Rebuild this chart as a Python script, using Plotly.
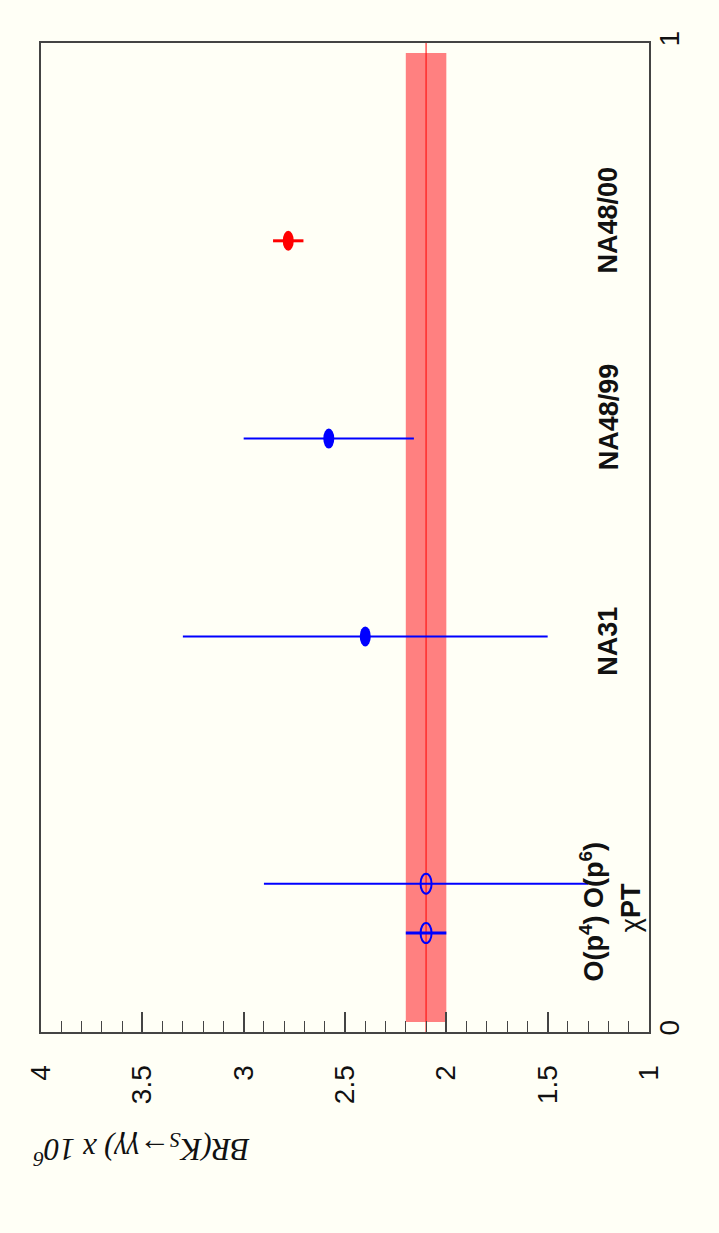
import plotly.graph_objects as go

# ---------------- data ----------------
experiments = ["O(p4)", "O(p6)", "NA31", "NA48/99", "NA48/00"]
cat_pos = [0.10, 0.15, 0.40, 0.60, 0.80]
br_values = [2.10, 2.10, 2.40, 2.58, 2.78]
br_errors = [0.10, 0.80, 0.90, 0.42, 0.075]
marker_colors = ["#0000ff", "#0000ff", "#0000ff", "#0000ff", "#ff0000"]
marker_filled = [False, False, True, True, True]

theory_center = 2.1
theory_half_width = 0.1

x_tick_vals = [1, 1.5, 2, 2.5, 3, 3.5, 4]
x_tick_text = ["1", "1.5", "2", "2.5", "3", "3.5", "4"]
y_tick_vals = [0, 1]
y_tick_text = ["0", "1"]

label_texts = ["<b>NA31</b>", "<b>NA48/99</b>", "<b>NA48/00</b>",
               "<b>O(p<sup>4</sup>) O(p<sup>6</sup>)</b>", "χ<b>PT</b>"]
label_x = [1.20, 1.20, 1.20, 1.28, 1.085]
label_y = [0.395, 0.622, 0.821, 0.122, 0.126]

axis_title = "BR(K<sub>S</sub>→γγ) x 10<sup>6</sup>"

# ---------------- style ----------------
BG = "#fffff6"
FRAME = "#444444"
band_y = (0.01, 0.99)
err_widths = [3, 2, 2, 2, 3]
ell_w, ell_h = 11, 20

fig = go.Figure()

# theory band
lo = theory_center - theory_half_width
hi = theory_center + theory_half_width
fig.add_trace(go.Scatter(
    x=[lo, hi, hi, lo, lo], y=[band_y[0], band_y[0], band_y[1], band_y[1], band_y[0]],
    mode="lines", fill="toself", fillcolor="#ff8080", line=dict(width=0),
    hoverinfo="skip", showlegend=False))
fig.add_trace(go.Scatter(
    x=[theory_center, theory_center], y=[0, 1], mode="lines",
    line=dict(color="#ff0000", width=1), hoverinfo="skip", showlegend=False))

# error bars
for i in range(len(experiments)):
    fig.add_trace(go.Scatter(
        x=[br_values[i]], y=[cat_pos[i]], mode="markers",
        marker=dict(size=1, color="rgba(0,0,0,0)"),
        error_x=dict(type="data", array=[br_errors[i]], color=marker_colors[i],
                     thickness=err_widths[i], width=0, visible=True),
        name=experiments[i], showlegend=False))

# elliptical markers anchored at data coordinates
for i in range(len(experiments)):
    fig.add_shape(
        type="circle", xref="x", yref="y",
        xsizemode="pixel", ysizemode="pixel",
        xanchor=br_values[i], yanchor=cat_pos[i],
        x0=-ell_w / 2, x1=ell_w / 2, y0=-ell_h / 2, y1=ell_h / 2,
        fillcolor=marker_colors[i] if marker_filled[i] else "rgba(0,0,0,0)",
        line=dict(color=marker_colors[i], width=0 if marker_filled[i] else 2),
        layer="above")

# category labels
for t, xv, yv in zip(label_texts, label_x, label_y):
    fig.add_annotation(x=xv, y=yv, xref="x", yref="y", text=t, showarrow=False,
                       textangle=-90, xanchor="center", yanchor="middle",
                       font=dict(family="Liberation Sans, Arial", size=27, color="#111111"))

# axis title (upside down, as in the reference)
fig.add_annotation(x=0.165, y=-0.119, xref="paper", yref="paper", text=axis_title,
                   showarrow=False, textangle=180, xanchor="center", yanchor="middle",
                   font=dict(family="Liberation Serif, Times New Roman", size=31,
                             style="italic", color="#111111"))

fig.update_layout(
    width=719, height=1233,
    margin=dict(l=41, r=70, t=43, b=201),
    paper_bgcolor=BG, plot_bgcolor=BG,
    showlegend=False,
    xaxis=dict(range=[4, 1], tickvals=x_tick_vals, ticktext=x_tick_text,
               ticks="inside", ticklen=20, tickwidth=1.5, tickcolor=FRAME,
               minor=dict(dtick=0.1, ticks="inside", ticklen=11, tickwidth=1, tickcolor=FRAME,
                          showgrid=False),
               tickangle=-90, ticklabelstandoff=20,
               tickfont=dict(family="Liberation Sans, Arial", size=28, color="#111111"),
               showgrid=False, zeroline=False, showline=True, linecolor=FRAME,
               linewidth=2, mirror=True),
    yaxis=dict(range=[0, 1], tickvals=y_tick_vals, ticktext=y_tick_text, side="right",
               ticks="", tickangle=-90, ticklabelstandoff=-6,
               tickfont=dict(family="Liberation Sans, Arial", size=28, color="#111111"),
               showgrid=False, zeroline=False, showline=True, linecolor=FRAME,
               linewidth=2, mirror=True),
)

fig.write_html("out.html")
